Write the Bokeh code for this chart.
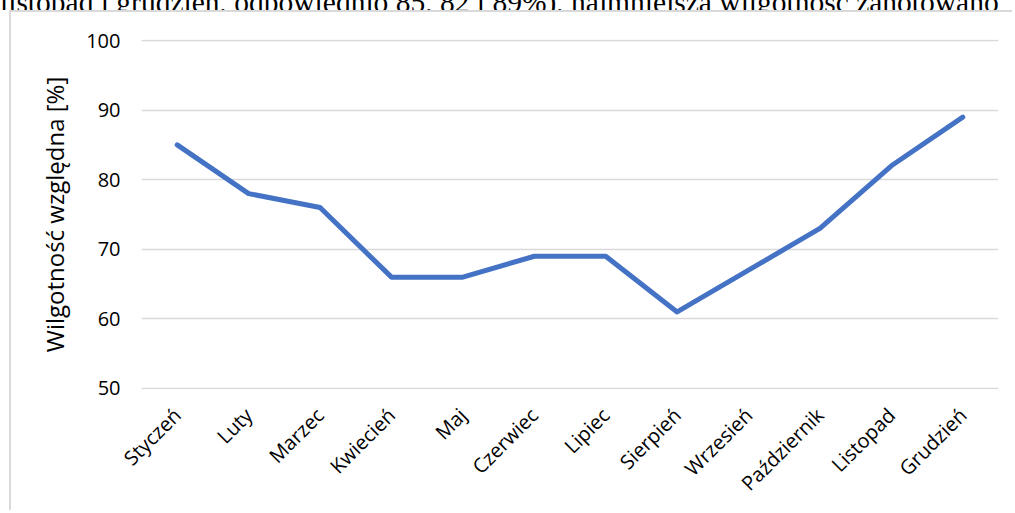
from bokeh.plotting import figure
from bokeh.models import Range1d, FactorRange, FixedTicker, Div
from bokeh.layouts import column
from bokeh.embed import file_html
from bokeh.resources import INLINE
import math

months = ["Styczeń", "Luty", "Marzec", "Kwiecień", "Maj", "Czerwiec",
          "Lipiec", "Sierpień", "Wrzesień", "Październik", "Listopad", "Grudzień"]
humidity = [85, 78, 76, 66, 66, 69, 69, 61, 67, 73, 82, 89]
y_ticks = [50, 60, 70, 80, 90, 100]
y_label = "Wilgotność względna [%]"
page_text = "listopad i grudzień, odpowiednio 85, 82 i 89%), najmniejszą wilgotność zanotowano"

FONT = "Open Sans"

top = Div(text=('<div style="margin-top:-20px;margin-left:0px;font-family:\'Liberation Serif\';'
                'font-size:29.5px;line-height:29.5px;white-space:nowrap;color:#000;">'
                + page_text + '</div>'),
          width=1015, height=10, margin=(0, 0, 0, 0), styles={"overflow": "hidden"})

p = figure(width=1003, height=500, output_backend="svg", toolbar_location=None,
           x_range=FactorRange(*months, range_padding=0),
           y_range=Range1d(49.856, 100.144),
           min_border_left=130, min_border_right=16,
           min_border_top=27, min_border_bottom=123)
p.styles = {"margin-left": "9px",
            "border-left": "2px solid #d9d9d9", "border-top": "2px solid #d9d9d9"}

p.line(x=months, y=humidity, line_color="#4472C4", line_width=5,
       line_cap="round", line_join="round")

p.outline_line_color = None
p.background_fill_color = "white"
p.border_fill_color = "white"

p.xgrid.grid_line_color = None
p.ygrid.grid_line_color = "#d9d9d9"
p.ygrid.grid_line_width = 1.5

p.yaxis.ticker = FixedTicker(ticks=y_ticks)
p.yaxis.axis_line_color = None
p.yaxis.major_tick_line_color = None
p.yaxis.minor_tick_line_color = None
p.yaxis.major_tick_out = 0
p.yaxis.major_label_standoff = 21
p.yaxis.major_label_text_font = FONT
p.yaxis.major_label_text_font_size = "20px"
p.yaxis.major_label_text_color = "#000000"
p.yaxis.axis_label = y_label
p.yaxis.axis_label_text_font = FONT
p.yaxis.axis_label_text_font_size = "24px"
p.yaxis.axis_label_text_font_style = "normal"
p.yaxis.axis_label_text_color = "#000000"
p.yaxis.axis_label_standoff = 12

p.xaxis.axis_line_color = None
p.xaxis.major_tick_line_color = None
p.xaxis.minor_tick_line_color = None
p.xaxis.major_tick_out = 0
p.xaxis.major_label_standoff = 22
p.xaxis.major_label_orientation = math.pi / 4
p.xaxis.major_label_text_font = FONT
p.xaxis.major_label_text_font_size = "20px"
p.xaxis.major_label_text_color = "#000000"

layout = column(top, p, spacing=0)
open("out.html", "w").write(file_html(layout, INLINE))
